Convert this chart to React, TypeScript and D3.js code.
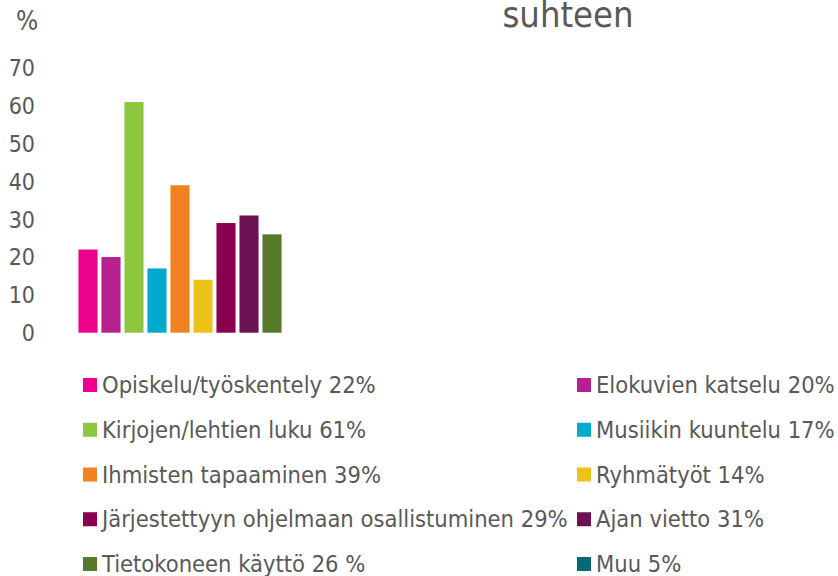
import React from "react";
import * as d3 from "d3";

const categories = [
  "Opiskelu/työskentely",
  "Elokuvien katselu",
  "Kirjojen/lehtien luku",
  "Musiikin kuuntelu",
  "Ihmisten tapaaminen",
  "Ryhmätyöt",
  "Järjestettyyn ohjelmaan osallistuminen",
  "Ajan vietto",
  "Tietokoneen käyttö",
  "Muu",
];
const values: (number | null)[] = [22, 20, 61, 17, 39, 14, 29, 31, 26, null];
const legendLabels = [
  "Opiskelu/työskentely 22%",
  "Elokuvien katselu 20%",
  "Kirjojen/lehtien luku 61%",
  "Musiikin kuuntelu 17%",
  "Ihmisten tapaaminen 39%",
  "Ryhmätyöt 14%",
  "Järjestettyyn ohjelmaan osallistuminen 29%",
  "Ajan vietto 31%",
  "Tietokoneen käyttö 26 %",
  "Muu 5%",
];
const colors = [
  "#EC008C",
  "#B51F8F",
  "#8DC63F",
  "#00AACC",
  "#F28122",
  "#EDC219",
  "#8A0050",
  "#6C1253",
  "#567A28",
  "#006978",
];
const yTicks = [0, 10, 20, 30, 40, 50, 60, 70];
const titleText = "suhteen";
const unitLabel = "%";

const FONT = "'DejaVu Sans Condensed', 'DejaVu Sans', sans-serif";
const TEXT = "#595959";

export default function App() {
  const W = 838;
  const H = 576;
  const shown = categories.filter((_, i) => values[i] !== null);
  const x = d3.scaleBand<string>().domain(shown).range([76.5, 283.5]).paddingInner(0.17).paddingOuter(0.085);
  const y = d3.scaleLinear().domain([0, 70]).range([332.7, 68]);

  const legendRowY = d3.scaleLinear().domain([0, 4]).range([393, 572]);
  const legendColX = [83, 577];

  return (
    <svg
      width={W}
      height={H}
      style={{ position: "absolute", left: 0, top: 0, background: "#fff" }}
      fontFamily={FONT}
    >
      <text x={568} y={27} textAnchor="middle" fontSize={36} fill={TEXT}>
        {titleText}
      </text>
      <text x={27} y={30} textAnchor="middle" fontSize={26} fill={TEXT}>
        {unitLabel}
      </text>
      {yTicks.map((t) => (
        <text key={t} x={35} y={y(t)} dy="0.36em" textAnchor="end" fontSize={23} fill={TEXT}>
          {t}
        </text>
      ))}
      {categories.map((c, i) =>
        values[i] === null ? null : (
          <rect
            key={c}
            x={x(c)}
            y={y(values[i] as number)}
            width={x.bandwidth()}
            height={y(0) - y(values[i] as number)}
            fill={colors[i]}
          />
        )
      )}
      {legendLabels.map((l, i) => {
        const col = i % 2;
        const row = Math.floor(i / 2);
        const by = legendRowY(row);
        const lx = legendColX[col];
        return (
          <g key={l}>
            <rect x={lx} y={by - 15} width={14} height={14} fill={colors[i]} />
            <text x={lx + 19} y={by} fontSize={23.5} fill={TEXT}>
              {l}
            </text>
          </g>
        );
      })}
    </svg>
  );
}
